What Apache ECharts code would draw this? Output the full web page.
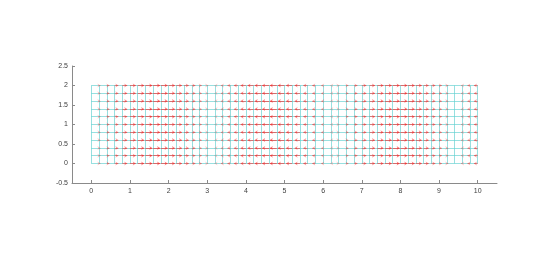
<!DOCTYPE html>
<html><head><meta charset="utf-8">
<script src="https://cdn.jsdelivr.net/npm/echarts@6/dist/echarts.min.js"></script>
<style>html,body{margin:0;padding:0;background:#fff}#c{width:550px;height:259px}</style>
</head><body><div id="c"></div>
<script>
// grid node columns (x) and rows (y)
const gridX = [0,0.2,0.4,0.6,0.8,1,1.2,1.4,1.6,1.8,2,2.2,2.4,2.6,2.8,3,3.2,3.4,3.6,3.8,4,4.2,4.4,4.6,4.8,5,5.2,5.4,5.6,5.8,6,6.2,6.4,6.6,6.8,7,7.2,7.4,7.6,7.8,8,8.2,8.4,8.6,8.8,9,9.2,9.4,9.6,9.8,10];
const gridY = [0,0.2,0.4,0.6,0.8,1,1.2,1.4,1.6,1.8,2];
// horizontal arrow component per column
const arrowU = [0,0.2,0.39,0.56,0.72,0.84,0.93,0.99,1,0.97,0.91,0.81,0.68,0.52,0.33,0.14,-0.06,-0.26,-0.44,-0.61,-0.76,-0.87,-0.95,-0.99,-1,-0.96,-0.88,-0.77,-0.63,-0.46,-0.28,-0.08,0.12,0.31,0.49,0.66,0.79,0.9,0.97,1,0.99,0.94,0.85,0.73,0.58,0.41,0.22,0.02,-0.17,-0.37,-0.54];
const xTicks = [0,1,2,3,4,5,6,7,8,9,10];
const yTicks = [-0.5,0,0.5,1,1.5,2,2.5];

const arrowScale = 0.18;
const meshLines = [];
gridX.forEach(x => meshLines.push({coords: [[x, gridY[0]], [x, gridY[gridY.length-1]]]}));
gridY.forEach(y => meshLines.push({coords: [[gridX[0], y], [gridX[gridX.length-1], y]]}));
const arrows = [];
gridY.forEach(y => gridX.forEach((x, i) => {
  const u = arrowU[i];
  if (Math.abs(u) < 0.03) return;
  arrows.push({coords: [[x, y], [x + u * arrowScale, y]],
    lineStyle: {opacity: 0.2 + 0.4 * Math.abs(u)}});
}));

const chart = echarts.init(document.getElementById('c'), null, {renderer: 'canvas'});
const axisLine = {show: true, onZero: false, lineStyle: {color: '#8a8a8a', width: 1}};
const axisTick = {show: true, inside: true, length: 3, lineStyle: {color: '#8a8a8a'}};
const labelBase = {color: '#404040', fontSize: 7, fontFamily: 'Liberation Sans, DejaVu Sans, sans-serif'};
chart.setOption({
  animation: false,
  backgroundColor: '#fff',
  grid: {left: 72, right: 53, top: 66, bottom: 76},
  xAxis: {type: 'value', min: -0.5, max: 10.5,
    axisLine: axisLine,
    axisTick: Object.assign({}, axisTick, {customValues: xTicks}),
    axisLabel: Object.assign({}, labelBase, {margin: 5, customValues: xTicks}),
    splitLine: {show: false}},
  yAxis: {type: 'value', min: -0.5, max: 2.5, interval: 0.5,
    axisLine: axisLine, axisTick: axisTick,
    axisLabel: Object.assign({}, labelBase, {margin: 4,
      formatter: v => yTicks.includes(v) ? String(v) : ''}),
    splitLine: {show: false}},
  series: [
    {type: 'lines', coordinateSystem: 'cartesian2d', polyline: false, silent: true,
     lineStyle: {color: '#5fd0d0', width: 1, opacity: 0.65}, data: meshLines, z: 1},
    {type: 'lines', coordinateSystem: 'cartesian2d', polyline: false, silent: true,
     symbol: ['none', 'arrow'], symbolSize: 3,
     itemStyle: {color: '#ff2020'},
     lineStyle: {color: '#ff2020', width: 1}, data: arrows, z: 2}
  ]
});
</script></body></html>
